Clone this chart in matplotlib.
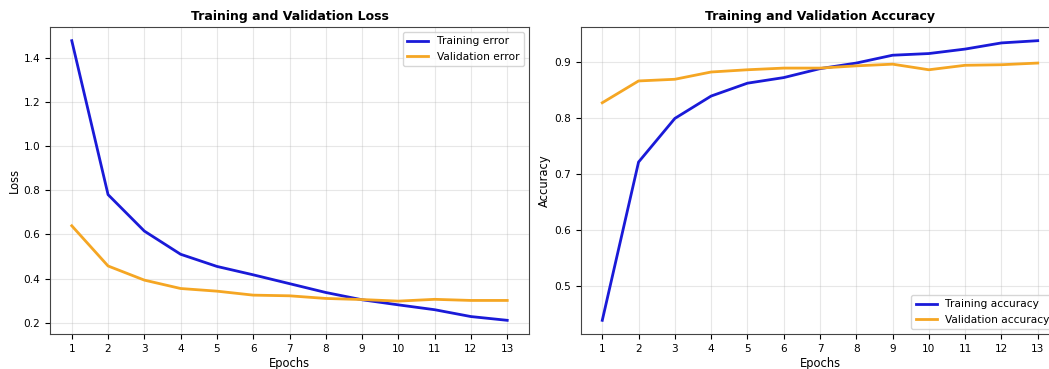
import matplotlib
matplotlib.use("Agg")
import matplotlib.pyplot as plt

epochs = list(range(1, 14))
train_loss = [1.477, 0.780, 0.615, 0.510, 0.455, 0.417, 0.377, 0.337, 0.304, 0.281, 0.259, 0.228, 0.211]
val_loss = [0.639, 0.457, 0.393, 0.355, 0.343, 0.325, 0.322, 0.310, 0.305, 0.298, 0.306, 0.301, 0.301]
train_acc = [0.438, 0.721, 0.799, 0.839, 0.862, 0.872, 0.888, 0.898, 0.912, 0.915, 0.923, 0.934, 0.938]
val_acc = [0.827, 0.866, 0.869, 0.882, 0.886, 0.889, 0.889, 0.893, 0.896, 0.886, 0.894, 0.895, 0.898]

BLUE = "#1a1ad8"
ORANGE = "#f5a623"

fig = plt.figure(figsize=(10.49, 3.69), dpi=100)
ax1 = fig.add_axes([50/1049, 34.7/369, 479/1049, 307.6/369])
ax2 = fig.add_axes([580.5/1049, 34.7/369, 479/1049, 307.6/369])

def style(ax, title, ylabel):
    ax.set_title(title, fontsize=9, fontweight="bold", pad=5)
    ax.set_xlabel("Epochs", fontsize=8.3, labelpad=2)
    ax.set_ylabel(ylabel, fontsize=8.3, labelpad=2)
    ax.set_xticks(epochs)
    ax.tick_params(labelsize=7.6)
    ax.grid(True, alpha=0.3)
    for s in ax.spines.values():
        s.set_color("#444444")

ax1.plot(epochs, train_loss, color=BLUE, lw=2, label="Training error")
ax1.plot(epochs, val_loss, color=ORANGE, lw=2, label="Validation error")
style(ax1, "Training and Validation Loss", "Loss")
ax1.legend(loc="upper right", fontsize=7.7)

ax2.plot(epochs, train_acc, color=BLUE, lw=2, label="Training accuracy")
ax2.plot(epochs, val_acc, color=ORANGE, lw=2, label="Validation accuracy")
style(ax2, "Training and Validation Accuracy", "Accuracy")
ax2.legend(loc="lower right", fontsize=7.7)

fig.savefig("out.png", dpi=100)
